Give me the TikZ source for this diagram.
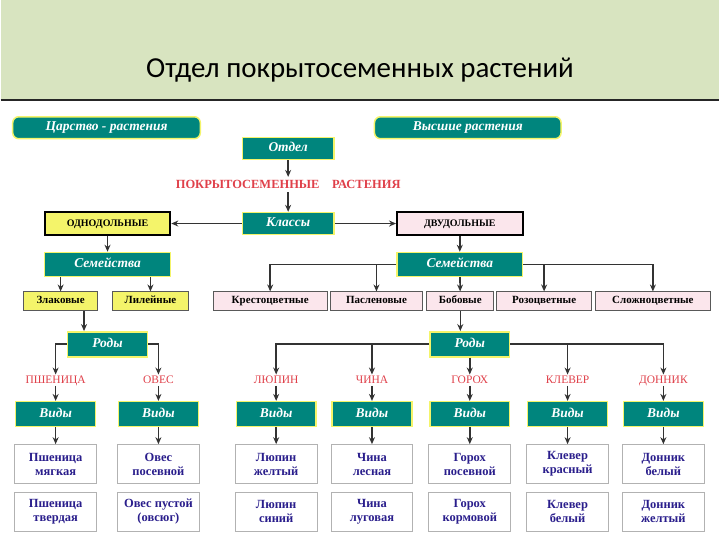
\documentclass[tikz,border=0pt]{standalone}
\usepackage{fontspec}
\setmainfont{Liberation Serif}
\newfontfamily\titlefont{Carlito}
\usetikzlibrary{arrows.meta}
\definecolor{teal1}{HTML}{00857D}
\definecolor{ylw}{HTML}{F4F46A}
\definecolor{pnk}{HTML}{FBE6EC}
\definecolor{bar}{HTML}{D8E4C0}
\definecolor{navy}{HTML}{2A1E8C}
\definecolor{redt}{HTML}{E0404A}
\tikzset{
  tbox/.style={draw=ylw,line width=1.5pt,fill=teal1,text=white,font=\bfseries\itshape\fontsize{13.5}{14}\selectfont,inner sep=0pt,minimum height=22pt,text height=9.5pt,text depth=3pt},
  rbox/.style={tbox,rounded corners=6pt},
  ybox/.style={draw=black,line width=1.8pt,fill=ylw,font=\bfseries\fontsize{10}{11}\selectfont,inner sep=0pt,minimum height=23pt,minimum width=126pt,text height=7pt,text depth=1pt},
  pbox/.style={ybox,fill=pnk},
  fam/.style={draw=gray!70!black,line width=0.9pt,fill=pnk,font=\bfseries\fontsize{11}{12}\selectfont,inner sep=1pt,minimum height=19pt,text height=7.5pt,text depth=2.5pt},
  yfam/.style={fam,fill=ylw},
  sp/.style={draw=gray!60,line width=0.8pt,fill=white,text=navy,font=\bfseries\fontsize{12.5}{14}\selectfont,align=center,inner sep=0pt,minimum width=82pt,minimum height=39pt},
  lbl/.style={text=redt,font=\fontsize{11.5}{12}\selectfont,inner sep=1pt,text height=8pt,text depth=1pt},
  ar/.style={-{Stealth[length=7pt,width=6pt]},line width=1.6pt,black!80},
}
\begin{document}
\begin{tikzpicture}[x=1pt,y=-1pt]
\fill[white] (0,0) rectangle (720,540);
\fill[bar] (0,0) rectangle (720,100);
\draw[line width=1.5pt,black!85] (0,100) -- (720,100);
\node[font=\titlefont\fontsize{29}{32}\selectfont] (title) at (360,70) {Отдел покрытосеменных растений};

\node[rbox,minimum width=188pt] (car) at (106,128) {Царство - растения};
\node[rbox,minimum width=187pt] (vys) at (468,128) {Высшие растения};
\node[tbox,minimum width=92pt] (otd) at (288,149) {Отдел};
\node[text=redt,font=\bfseries\fontsize{12.5}{13}\selectfont] (pok) at (288,185) {ПОКРЫТОСЕМЕННЫЕ\quad РАСТЕНИЯ};
\node[tbox,minimum width=92pt] (kl) at (288,224) {Классы};
\node[ybox] (odn) at (107,224) {ОДНОДОЛЬНЫЕ};
\node[pbox] (dvu) at (460,224) {ДВУДОЛЬНЫЕ};
\node[tbox,minimum width=126pt,minimum height=24pt] (seml) at (107,265) {Семейства};
\node[tbox,minimum width=126pt,minimum height=24pt] (semr) at (460,265) {Семейства};
\node[yfam,minimum width=74pt] (zl) at (60,302) {Злаковые};
\node[yfam,minimum width=76pt] (li) at (150,302) {Лилейные};
\node[fam,minimum width=114pt] (kr) at (270,302) {Крестоцветные};
\node[fam,minimum width=93pt] (pa) at (376.5,302) {Пасленовые};
\node[fam,minimum width=67pt] (bo) at (460.5,302) {Бобовые};
\node[fam,minimum width=95pt] (ro) at (544.5,302) {Розоцветные};
\node[fam,minimum width=115pt] (sl) at (653.5,302) {Сложноцветные};
\node[tbox,minimum width=80pt,minimum height=25pt] (rodl) at (107,345) {Роды};
\node[tbox,minimum width=80pt,minimum height=25pt] (rodr) at (470,345) {Роды};

\foreach \n/\x/\g/\a/\b/\c/\d in {
 1/55/ПШЕНИЦА/Пшеница/мягкая/Пшеница/твердая,
 2/158/ОВЕС/Овес/посевной/Овес пустой/(овсюг),
 3/276/ЛЮПИН/Люпин/желтый/Люпин/синий,
 4/372/ЧИНА/Чина/лесная/Чина/луговая,
 5/470/ГОРОХ/Горох/посевной/Горох/кормовой,
 6/568/КЛЕВЕР/Клевер/красный/Клевер/белый,
 7/664/ДОННИК/Донник/белый/Донник/желтый}{
  \node[lbl] (g\n) at (\x,381) {\g};
  \node[tbox,minimum width=80pt,minimum height=25pt] (v\n) at (\x,415) {Виды};
  \node[sp] (s\n) at (\x,465) {\a\\\b};
  \node[sp] (t\n) at (\x,513) {\c\\\d};
  \draw[ar] (g\n) -- (v\n);
  \draw[ar] (v\n) -- (s\n);
}

\draw[ar] (otd) -- (pok);
\draw[ar] (pok) -- (kl);
\draw[ar] (kl) -- (odn);
\draw[ar] (kl) -- (dvu);
\draw[ar] (odn) -- (seml);
\draw[ar] (dvu) -- (semr);
\draw[ar] (seml.south -| zl) -- (zl);
\draw[ar] (seml.south -| li) -- (li);
\draw[ar] (semr.west) -| (kr);
\coordinate (pj) at (semr.west -| pa);
\draw[ar] (pj) -- (pa);
\draw[ar] (semr) -- (bo);
\draw[ar] (semr.east) -| (sl);
\coordinate (rj) at (semr.east -| ro);
\draw[ar] (rj) -- (ro);
\draw[ar] (zl.south east) ++(-14,0) coordinate (zb) -- (zb |- rodl.north);
\draw[ar] (bo) -- (bo |- rodr.north);
\draw[ar] (rodl.west) -| (g1);
\draw[ar] (rodl.east) -| (g2);
\draw[ar] (rodr.west) -| (g3);
\coordinate (r4) at (rodr.west -| g4);
\draw[ar] (r4) -- (g4);
\draw[ar] (rodr) -- (g5);
\draw[ar] (rodr.east) -| (g7);
\coordinate (r6) at (rodr.east -| g6);
\draw[ar] (r6) -- (g6);
\end{tikzpicture}
\end{document}
